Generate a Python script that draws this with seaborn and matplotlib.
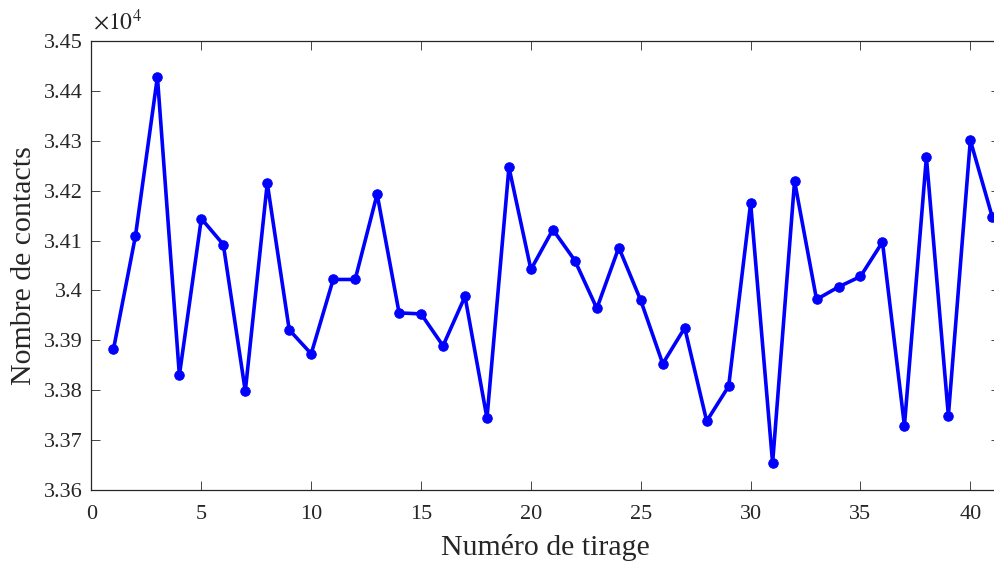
import numpy as np
import pandas as pd
import matplotlib
matplotlib.use("Agg")
import matplotlib.pyplot as plt
import seaborn as sns

# ===============================
# Data
# ===============================
tirage = list(range(1, 42))
contacts = [33882, 34109, 34428, 33830, 34144, 34092, 33798, 34215, 33921, 33873,
            34022, 34022, 34193, 33955, 33953, 33889, 33988, 33744, 34247, 34042,
            34122, 34060, 33964, 34086, 33980, 33853, 33925, 33738, 33808, 34175,
            33654, 34219, 33982, 34007, 34028, 34097, 33729, 34267, 33749, 34301,
            34147]
y_ticks = [3.36, 3.37, 3.38, 3.39, 3.40, 3.41, 3.42, 3.43, 3.44, 3.45]
y_tick_labels = ["3.36", "3.37", "3.38", "3.39", "3.4", "3.41", "3.42", "3.43", "3.44", "3.45"]
x_ticks = [0, 5, 10, 15, 20, 25, 30, 35, 40]

df = pd.DataFrame({"tirage": tirage, "contacts": contacts})
df["contacts_1e4"] = df["contacts"] / 1e4

# ===============================
# Style
# ===============================
sns.set_style("ticks")
plt.rcParams['font.family'] = ['Liberation Serif', 'DejaVu Serif']
plt.rcParams['mathtext.fontset'] = 'stix'

grey = "#262626"

fig = plt.figure(figsize=(9.95, 5.61), dpi=100)
ax = fig.add_axes([91.5 / 995, 71 / 561, (1000 - 91.5) / 995, (490 - 41) / 561])

sns.lineplot(data=df, x="tirage", y="contacts_1e4", ax=ax, color=(0, 0, 1),
             linewidth=2.6, marker="o", markersize=6.8, markeredgecolor=(0, 0, 1))

ax.set_xlim(0, 41.35)
ax.set_ylim(3.36, 3.45)
ax.set_xticks(x_ticks)
ax.set_yticks(y_ticks)
ax.set_yticklabels(y_tick_labels)

ax.tick_params(direction="in", length=6.5, width=0.6, colors=grey,
               top=True, right=True, labelsize=16)
ax.tick_params(axis="x", pad=11)
ax.tick_params(axis="y", pad=6)
for s in ax.spines.values():
    s.set_color(grey)
    s.set_linewidth(0.9)

ax.set_xlabel("Numéro de tirage", fontsize=21.5, color=grey, labelpad=7)
ax.set_ylabel("Nombre de contacts", fontsize=21.5, color=grey, labelpad=5)
ax.text(0.002, 1.015, r"$\times10^{4}$", transform=ax.transAxes, fontsize=17,
        color=grey, ha="left", va="bottom")

plt.savefig("out.png", dpi=100)
